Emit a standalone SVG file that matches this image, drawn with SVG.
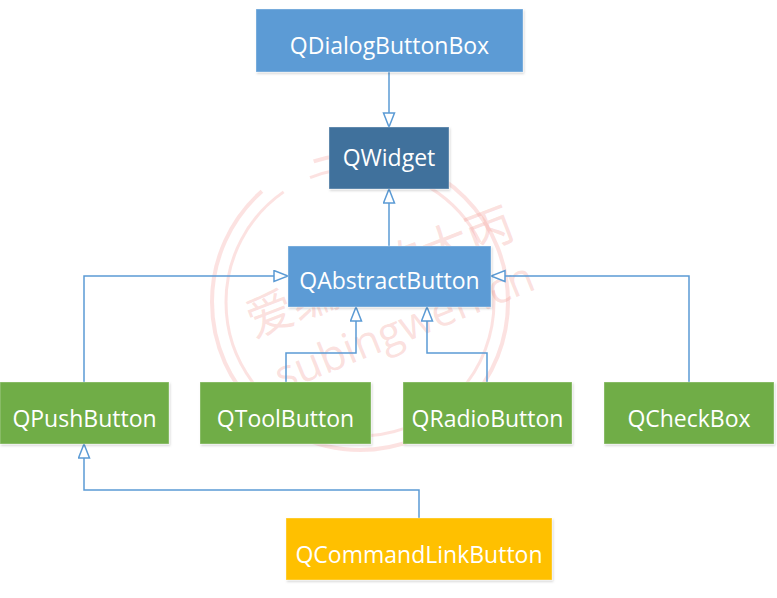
<svg xmlns="http://www.w3.org/2000/svg" width="777" height="598" viewBox="0 0 777 598">
  <style>
    .box { stroke: #ffffff; stroke-opacity: 0.35; stroke-width: 1; filter: url(#sh); }
    .blue { fill: #5B9BD5; }
    .dark { fill: #41719C; }
    .green { fill: #70AD47; }
    .yellow { fill: #FFC000; }
    .lbl { font-family: "Open Sans", "Liberation Sans", sans-serif; font-size: 23px; fill: #ffffff; text-anchor: middle; }
    .conn { fill: none; stroke: #5B9BD5; stroke-width: 1.5; marker-end: url(#tri); }
    .wm { fill: none; stroke: #F4A09A; stroke-opacity: 0.3; }
    .wmt { fill: #F4A09A; fill-opacity: 0.32; }
  </style>
  <defs>
    <marker id="tri" markerUnits="userSpaceOnUse" markerWidth="17" markerHeight="14" refX="15" refY="6.5" orient="auto">
      <path d="M1,1 L15,6.5 L1,12 Z" fill="#ffffff" stroke="#5B9BD5" stroke-width="1.5"/>
    </marker>
    <filter id="sh" x="-5%" y="-10%" width="115%" height="130%">
      <feDropShadow dx="1" dy="1.5" stdDeviation="1.2" flood-color="#000000" flood-opacity="0.18"/>
    </filter>
  </defs>
  <rect width="777" height="598" fill="#ffffff"/>

  <g id="watermark">
    <circle class="wm" cx="360" cy="302" r="148" stroke-width="4" stroke-dasharray="300 40 250 60"/>
    <circle class="wm" cx="360" cy="302" r="134" stroke-width="3" stroke-dasharray="200 50 300 30"/>
    <text class="wmt" font-family="Noto Sans CJK SC, sans-serif" font-size="47" transform="translate(254,338) rotate(-21)">爱编程的大丙</text>
    <text class="wmt" font-family="Open Sans, sans-serif" font-size="43" transform="translate(282,392) rotate(-22)">subingwen.cn</text>
  </g>

  <g id="connectors">
    <path class="conn" d="M389,72 V127"/>
    <path class="conn" d="M389,246 V189"/>
    <path class="conn" d="M84,382 V276 H288"/>
    <path class="conn" d="M286,382 V353 H356 V307"/>
    <path class="conn" d="M487,382 V353 H427 V307"/>
    <path class="conn" d="M689,382 V276 H491"/>
    <path class="conn" d="M419,518 V490 H84 V444"/>
  </g>

  <g id="QDialogButtonBox">
    <rect class="box blue" x="256" y="9" width="267" height="63"/>
    <text class="lbl" x="389.5" y="54">QDialogButtonBox</text>
  </g>
  <g id="QWidget">
    <rect class="box dark" x="329" y="127" width="120" height="62"/>
    <text class="lbl" x="389" y="166">QWidget</text>
  </g>
  <g id="QAbstractButton">
    <rect class="box blue" x="288" y="246" width="203" height="61"/>
    <text class="lbl" x="389.5" y="289">QAbstractButton</text>
  </g>
  <g id="QPushButton">
    <rect class="box green" x="0" y="382" width="169" height="62"/>
    <text class="lbl" x="84.5" y="427">QPushButton</text>
  </g>
  <g id="QToolButton">
    <rect class="box green" x="200" y="382" width="171" height="62"/>
    <text class="lbl" x="285.5" y="427">QToolButton</text>
  </g>
  <g id="QRadioButton">
    <rect class="box green" x="403" y="382" width="169" height="62"/>
    <text class="lbl" x="487.5" y="427">QRadioButton</text>
  </g>
  <g id="QCheckBox">
    <rect class="box green" x="604" y="382" width="170" height="62"/>
    <text class="lbl" x="689" y="427">QCheckBox</text>
  </g>
  <g id="QCommandLinkButton">
    <rect class="box yellow" x="286" y="518" width="266" height="62"/>
    <text class="lbl" x="419" y="563">QCommandLinkButton</text>
  </g>
</svg>
